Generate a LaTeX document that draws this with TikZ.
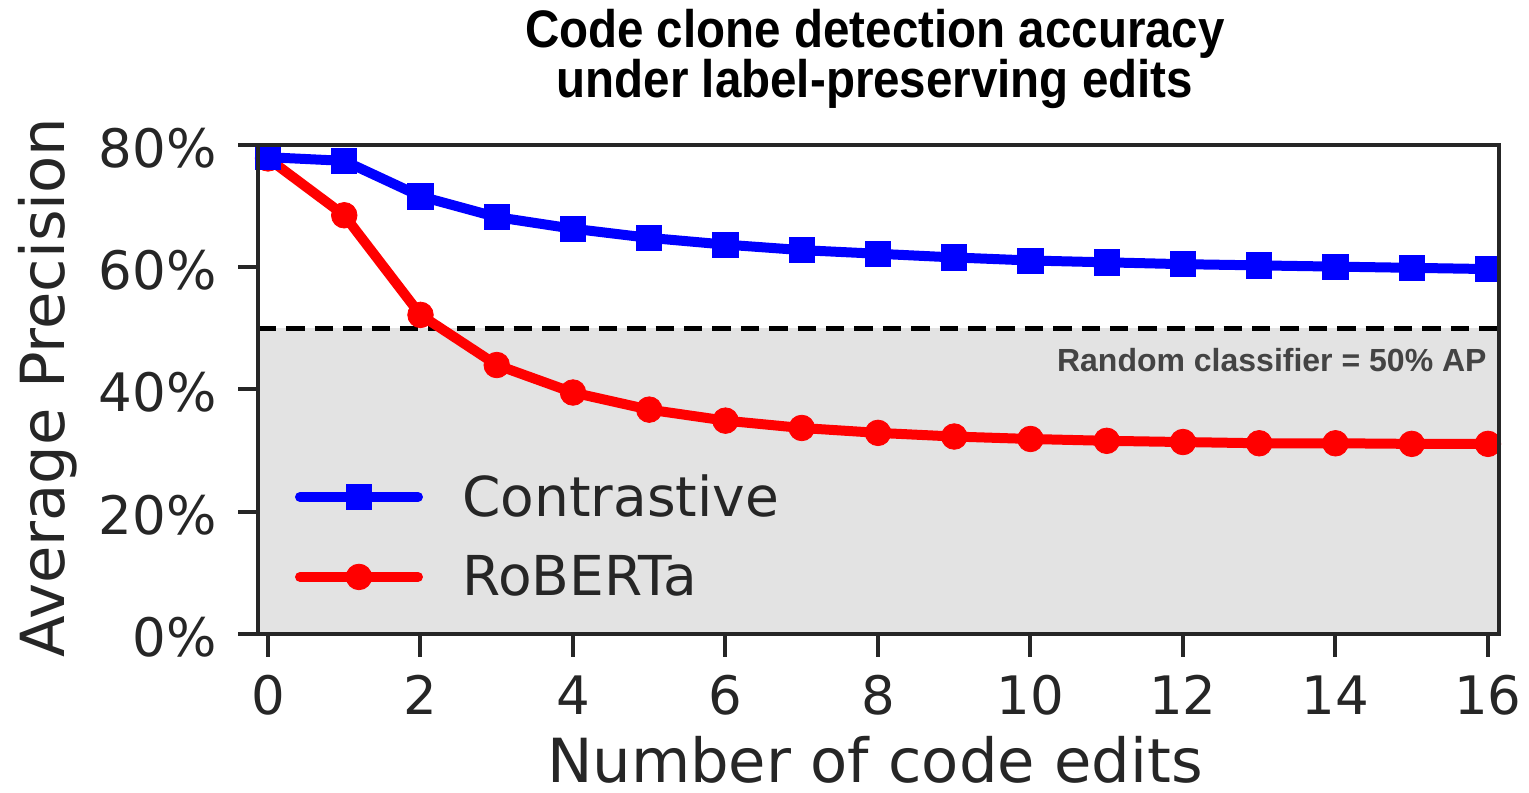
\documentclass[tikz,border=0pt]{standalone}
\usepackage{fontspec}
\setmainfont{DejaVu Sans}
\newfontfamily\headfont[FakeStretch=0.9]{Liberation Sans}
\newfontfamily\notefont{Liberation Sans}
\definecolor{ink}{HTML}{262626}
\definecolor{bandgray}{HTML}{E3E3E3}
\definecolor{notegray}{HTML}{444444}
\definecolor{cblue}{HTML}{0000FF}
\definecolor{cred}{HTML}{FF0000}
\tikzset{
  spine/.style={draw=ink, line width=2pt},
  tickmark/.style={draw=ink, line width=2pt},
  yticklabel/.style={text=ink, anchor=east, inner sep=0pt, yshift=-1.5pt,
    font=\fontsize{26.5}{30}\selectfont},
  xticklabel/.style={text=ink, anchor=base, inner sep=0pt,
    font=\fontsize{26.5}{30}\selectfont},
  axislabel/.style={text=ink, inner sep=0pt, font=\fontsize{30.4}{34}\selectfont},
  series/.style={line width=5pt, line join=round, line cap=round},
  bsq/.style={rectangle, fill=cblue, draw=cblue, line width=0.4pt,
    minimum size=12.6pt, inner sep=0pt},
  rdot/.style={circle, fill=cred, draw=cred, line width=0.4pt,
    minimum size=12.8pt, inner sep=0pt},
  legendtext/.style={text=ink, anchor=west, inner sep=0pt,
    font=\fontsize{27.5}{32}\selectfont},
  titletext/.style={text=black, anchor=base, inner sep=0pt,
    font=\headfont\bfseries\fontsize{26.4}{30}\selectfont},
}
\begin{document}
\begin{tikzpicture}[x=38.125pt, y=3.05625pt]
\useasboundingbox (-3.5148,-26.012) rectangle (16.538,103.72);

% shaded region below chance level
\fill[bandgray] (-0.131,0) rectangle (16.144,50);
\draw[black, line width=2.6pt, dash pattern=on 9.2pt off 5pt] (-0.131,50) -- (16.144,50);

% data points
\foreach \v [count=\i from 0] in {78.0,77.4,71.6,68.2,66.3,64.8,63.7,62.8,62.2,61.6,61.1,60.8,60.5,60.3,60.1,59.9,59.7}
  \coordinate (b\i) at (\i,\v);
\foreach \v [count=\i from 0] in {77.8,68.5,52.2,44.0,39.5,36.7,34.9,33.7,32.9,32.3,31.9,31.6,31.4,31.2,31.2,31.1,31.1}
  \coordinate (r\i) at (\i,\v);

% RoBERTa
\draw[series, cred] (r0) \foreach \i in {1,...,16}{ -- (r\i)};
\foreach \i in {0,...,16} \node[rdot] (rm\i) at (r\i) {};
% Contrastive
\draw[series, cblue] (b0) \foreach \i in {1,...,16}{ -- (b\i)};
\foreach \i in {0,...,16} \node[bsq] (bm\i) at (b\i) {};

% frame
\draw[spine] (-0.131,0) rectangle (16.144,80);

% y ticks
\foreach \t in {0,20,40,60,80}{
  \draw[tickmark] (-0.131,\t) -- (-0.393,\t);
  \node[yticklabel] (yl\t) at (-0.669,\t) {\t\%};
}
% x ticks
\foreach \t in {0,2,...,16}{
  \draw[tickmark] (\t,0) -- (\t,-3.76);
  \node[xticklabel] (xl\t) at (\t,-13.25) {\t};
}

% axis labels
\node[axislabel, anchor=base] (xlab) at (7.96,-24.3) {Number of code edits};
\node[axislabel, rotate=90, anchor=base] (ylab) at (-2.675,40.3) {Average Precision};

% title
\node[titletext] (t1) at (7.96,96.0) {Code clone detection accuracy};
\node[titletext] (t2) at (7.96,87.8) {under label-preserving edits};

% chance-level note
\node[text=notegray, anchor=base east, inner sep=0pt, font=\notefont\bfseries\fontsize{16}{19}\selectfont] (note) at (15.987,42.9) {Random classifier = 50\% AP};

% legend
\coordinate (lb1) at (0.42,22.41);
\coordinate (lb2) at (1.967,22.41);
\coordinate (lr1) at (0.42,9.33);
\coordinate (lr2) at (1.967,9.33);
\draw[series, cblue] (lb1) -- (lb2);
\node[bsq] (lbm) at (1.193,22.41) {};
\draw[series, cred] (lr1) -- (lr2);
\node[rdot] (lrm) at (1.193,9.33) {};
\node[legendtext] (lbt) at (2.544,22.6) {Contrastive};
\node[legendtext] (lrt) at (2.544,9.5) {RoBERTa};
\end{tikzpicture}
\end{document}
